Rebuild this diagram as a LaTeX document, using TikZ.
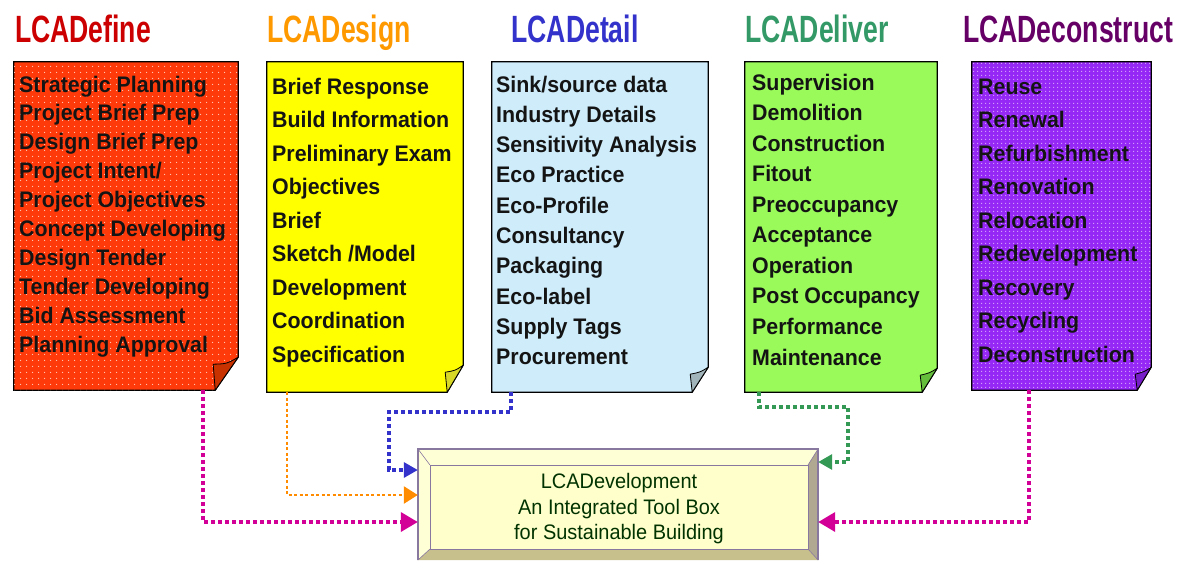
\documentclass[tikz,border=0pt]{standalone}
\usepackage{fontspec}
\setmainfont{Liberation Sans}
\newfontfamily\titlefont[FakeStretch=0.7]{Liberation Sans}
\newfontfamily\bodyfont[FakeStretch=0.95]{Liberation Sans}
\usetikzlibrary{arrows.meta,calc,patterns.meta}
\definecolor{cdefine}{RGB}{204,0,0}
\definecolor{cdesign}{RGB}{255,153,0}
\definecolor{cdetail}{RGB}{51,51,204}
\definecolor{cdeliver}{RGB}{51,153,102}
\definecolor{cdecon}{RGB}{102,0,102}
\definecolor{fred}{RGB}{255,58,10}
\definecolor{fredflap}{RGB}{200,50,0}
\definecolor{fyel}{RGB}{255,255,0}
\definecolor{fyelflap}{RGB}{215,215,40}
\definecolor{fblue}{RGB}{206,236,250}
\definecolor{fblueflap}{RGB}{160,180,185}
\definecolor{fgreen}{RGB}{153,250,90}
\definecolor{fgreenflap}{RGB}{100,190,60}
\definecolor{fpurp}{RGB}{150,40,245}
\definecolor{fpurpflap}{RGB}{120,30,200}
\definecolor{txt}{RGB}{20,20,20}
\definecolor{cmag}{RGB}{210,0,150}
\definecolor{corange}{RGB}{255,140,0}
\definecolor{cblue}{RGB}{51,51,204}
\definecolor{cgreen}{RGB}{51,153,85}
\definecolor{devfill}{RGB}{255,255,204}
\definecolor{devtop}{RGB}{255,255,214}
\definecolor{devright}{RGB}{176,168,144}
\definecolor{devbottom}{RGB}{200,192,140}
\definecolor{devedge}{RGB}{136,120,160}
\definecolor{devtext}{RGB}{0,51,0}
\tikzdeclarepattern{name=wdotsA, type=uncolored, bounding box={(0pt,0pt) and (6pt,6pt)},
  tile size={(6pt,6pt)}, code={\pgfpathcircle{\pgfpoint{3pt}{3pt}}{0.7pt}\pgfusepath{fill}}}
\tikzdeclarepattern{name=wdotsB, type=uncolored, bounding box={(0pt,0pt) and (4pt,4pt)},
  tile size={(4pt,4pt)}, code={\pgfpathrectangle{\pgfpoint{1.5pt}{1.5pt}}{\pgfpoint{1.2pt}{1.2pt}}\pgfusepath{fill}}}
\newcommand{\pagebox}[9]{%
  \node[inner sep=0pt, minimum width={#4-#2}, minimum height={#5-#3}] (#1) at ({(#2+#4)/2},{(#3+#5)/2}) {};
  \filldraw[fill=#6, draw=black, line width=1.2pt, line join=miter]
    (#1.north west) -- (#1.north east) -- ([yshift=#9]#1.south east)
    -- ([xshift=-#8]#1.south east) -- (#1.south west) -- cycle;
  \filldraw[fill=#7, draw=black, line width=0.8pt, line join=round]
    ([yshift=#9]#1.south east) .. controls ([xshift=-#8*0.5,yshift=#9*0.8]#1.south east) ..
    ([xshift=-#8-2pt,yshift=#9-7pt]#1.south east)
    -- ([xshift=-#8]#1.south east) -- cycle;
}
\tikzset{
  title/.style={anchor=base, inner sep=0pt, font=\titlefont\bfseries\fontsize{38}{40}\selectfont},
  item/.style={anchor=base west, inner sep=0pt, text=txt, font=\bodyfont\bfseries\fontsize{22.5}{27}\selectfont},
  conn/.style={line width=3.2pt, dash pattern=on 4pt off 3pt},
  devlabel/.style={align=center, inner sep=0pt, text=devtext, font=\bodyfont\fontsize{21}{25.5}\selectfont}
}
\begin{document}
\begin{tikzpicture}[x=1pt,y=-1pt]
\useasboundingbox (0,0) rectangle (1182,560);
\fill[white] (0,0) rectangle (1182,560);

% titles
\node[title, text=cdefine] (t1) at (83,42) {LCADefine};
\node[title, text=cdesign] (t2) at (339,42) {LCADesign};
\node[title, text=cdetail] (t3) at (575,42) {LCADetail};
\node[title, text=cdeliver] (t4) at (817,42) {LCADeliver};
\node[title, text=cdecon] (t5) at (1068,42) {LCADeconstruct};

% boxes
\pagebox{b1}{14}{62}{238}{390}{fred,postaction={pattern=wdotsA,pattern color=white!75!fred}}{fredflap}{23pt}{33pt}
\pagebox{b2}{267}{62}{463}{392}{fyel}{fyelflap}{16pt}{27pt}
\pagebox{b3}{492}{62}{708}{392}{fblue}{fblueflap}{16pt}{25pt}
\pagebox{b4}{745}{62}{937}{392}{fgreen}{fgreenflap}{15pt}{24pt}
\pagebox{b5}{972}{62}{1151}{390}{fpurp,postaction={pattern=wdotsB,pattern color=white!55!fpurp}}{fpurpflap}{14pt}{23pt}

\foreach \t [count=\i] in {Strategic Planning,Project Brief Prep,Design Brief Prep,Project  Intent/,Project Objectives,Concept Developing,Design Tender,Tender Developing,Bid Assessment,Planning Approval}
  \node[item] (r\i) at (19,{92+(\i-1)*28.9}) {\t};
\foreach \t [count=\i] in {Brief Response,Build Information,Preliminary Exam,Objectives,Brief,Sketch /Model,Development,Coordination,Specification}
  \node[item] (y\i) at (272,{94+(\i-1)*33.5}) {\t};
\foreach \t [count=\i] in {Sink/source data,Industry Details,Sensitivity Analysis,Eco Practice,Eco-Profile,Consultancy,Packaging,Eco-label,Supply Tags,Procurement}
  \node[item] (l\i) at (496,{92+(\i-1)*30.33}) {\t};
\foreach \t [count=\i] in {Supervision,Demolition,Construction,Fitout,Preoccupancy,Acceptance,Operation,Post Occupancy,Performance,Maintenance}
  \node[item] (g\i) at (752,{90+(\i-1)*30.56}) {\t};
\foreach \t [count=\i] in {Reuse,Renewal,Refurbishment,Renovation,Relocation,Redevelopment,Recovery,Recycling,Deconstruction}
  \node[item] (p\i) at (978,{94+(\i-1)*33.5}) {\t};

% central box
\node[inner sep=0pt, minimum width=400, minimum height=111] (dev) at (618,504.5) {};
\fill[devtop] (dev.north west) -- (dev.north east) -- (808,465) -- (430,465) -- cycle;
\fill[devtop] (dev.north west) -- (430,465) -- (430,549) -- (dev.south west) -- cycle;
\fill[devright] (dev.north east) -- (dev.south east) -- (808,549) -- (808,465) -- cycle;
\fill[devbottom] (dev.south west) -- (dev.south east) -- (808,549) -- (430,549) -- cycle;
\filldraw[fill=devfill, draw=devedge, line width=1pt] (430,465) rectangle (808,549);
\draw[devedge, line width=0.6pt] (dev.north west) -- (430,465) (dev.north east) -- (808,465)
  (dev.south west) -- (430,549) (dev.south east) -- (808,549);
\draw[devedge, line width=1.5pt] (dev.south west) -- (dev.north west) -- (dev.north east) -- (dev.south east);
\node[devlabel] (devtxt) at (619,509) {LCADevelopment\\An Integrated Tool Box\\for Sustainable Building};

% connectors
\coordinate (xr) at (203,0);
\coordinate (xy) at (287,0);
\coordinate (xb) at (511,0);
\coordinate (xg) at (759,0);
\coordinate (xp) at (1029,0);
\coordinate (ya) at (0,522);
\coordinate (yo) at (0,495);
\coordinate (yb) at (0,470);
\coordinate (yg) at (0,462);
\draw[conn, cmag, line width=3.6pt, -{Triangle[length=17pt,width=19pt]}] (b1.south -| xr) |- (dev.west |- ya);
\draw[conn, corange, line width=2.6pt, dash pattern=on 3pt off 2.5pt, -{Triangle[length=14pt,width=17pt]}] (b2.south -| xy) |- (dev.west |- yo);
\draw[conn, cblue, -{Triangle[length=14pt,width=15pt]}] (b3.south -| xb) -- (511,412) -- (389,412) |- (dev.west |- yb);
\draw[conn, cgreen, -{Triangle[length=14pt,width=15pt]}] (b4.south -| xg) -- (759,407) -- (848,407) |- (dev.east |- yg);
\draw[conn, cmag, line width=3.6pt, -{Triangle[length=17pt,width=19pt]}] (b5.south -| xp) |- (dev.east |- ya);
\end{tikzpicture}
\end{document}
